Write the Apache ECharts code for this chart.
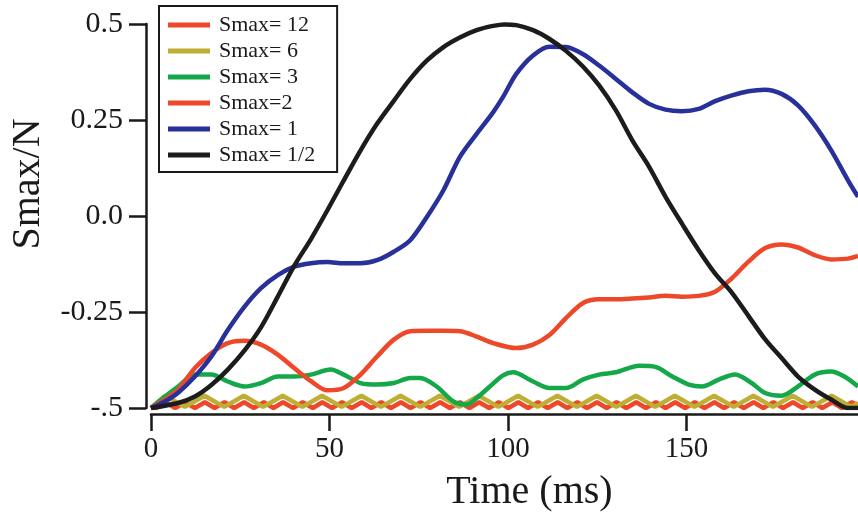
<!DOCTYPE html>
<html><head><meta charset="utf-8">
<script src="https://cdn.jsdelivr.net/npm/echarts@6/dist/echarts.min.js"></script>
<style>html,body{margin:0;padding:0;background:#fff}#c{width:858px;height:517px}</style>
</head><body><div id="c"></div>
<script>
const seriesNames = ['Smax= 12', 'Smax= 6', 'Smax= 3', 'Smax=2', 'Smax= 1', 'Smax= 1/2'];
const xTickValues = [0, 50, 100, 150];
const xTickLabels = ['0', '50', '100', '150'];
const yTickValues = [-0.5, -0.25, 0, 0.25, 0.5];
const yTickLabels = ['-.5', '-0.25', '0.0', '0.25', '0.5'];

// Smax = 12 : small zigzag near the bottom
const smax12 = [[0,-0.5],[1.4,-0.5],[4.1,-0.485],[6.8,-0.5],[9.6,-0.485],[12.3,-0.5],[15.1,-0.485],[17.8,-0.5],[20.6,-0.485],[23.3,-0.5],[26.1,-0.485],[28.8,-0.5],[31.6,-0.485],[34.3,-0.5],[37.0,-0.485],[39.8,-0.5],[42.5,-0.485],[45.3,-0.5],[48.0,-0.485],[50.7,-0.5],[53.5,-0.485],[56.2,-0.5],[59.0,-0.485],[61.7,-0.5],[64.5,-0.485],[67.2,-0.5],[70.0,-0.485],[72.7,-0.5],[75.5,-0.485],[78.2,-0.5],[81.0,-0.485],[83.7,-0.5],[86.5,-0.485],[89.2,-0.5],[91.9,-0.485],[94.7,-0.5],[97.4,-0.485],[100.1,-0.5],[102.9,-0.485],[105.6,-0.5],[108.4,-0.485],[111.1,-0.5],[113.9,-0.485],[116.6,-0.5],[119.4,-0.485],[122.1,-0.5],[124.9,-0.485],[127.6,-0.5],[130.4,-0.485],[133.1,-0.5],[135.9,-0.485],[138.6,-0.5],[141.4,-0.485],[144.1,-0.5],[146.8,-0.485],[149.6,-0.5],[152.3,-0.485],[155.0,-0.5],[157.8,-0.485],[160.5,-0.5],[163.3,-0.485],[166.0,-0.5],[168.8,-0.485],[171.5,-0.5],[174.3,-0.485],[177.0,-0.5],[179.8,-0.485],[182.5,-0.5],[185.3,-0.485],[188.0,-0.5],[190.8,-0.485],[193.5,-0.5],[196.3,-0.485],[198,-0.493]];

// Smax = 6
const smax6 = [[0,-0.5],[4.0,-0.468],[9.5,-0.497],[15.0,-0.468],[20.5,-0.497],[26.0,-0.468],[31.4,-0.497],[36.9,-0.468],[42.4,-0.497],[47.9,-0.468],[53.4,-0.497],[58.9,-0.468],[64.4,-0.497],[69.9,-0.468],[75.4,-0.497],[80.9,-0.468],[86.3,-0.497],[91.8,-0.468],[97.3,-0.497],[102.8,-0.468],[108.3,-0.497],[113.8,-0.468],[119.3,-0.497],[124.8,-0.468],[130.3,-0.497],[135.8,-0.468],[141.2,-0.497],[146.7,-0.468],[152.2,-0.497],[157.7,-0.468],[163.2,-0.497],[168.7,-0.468],[174.2,-0.497],[179.7,-0.468],[185.1,-0.497],[190.6,-0.468],[196.1,-0.497],[198,-0.487]];

// Smax = 3
const smax3 = [[0,-0.5],[3.9,-0.47],[7.6,-0.444],[12.3,-0.413],[16.9,-0.413],[21.5,-0.431],[26.2,-0.444],[30.8,-0.435],[35.5,-0.418],[40.1,-0.418],[44.8,-0.413],[50.3,-0.40],[54,-0.413],[58.7,-0.435],[63.3,-0.439],[68,-0.435],[72.6,-0.422],[75.4,-0.422],[80,-0.444],[84.7,-0.483],[88.4,-0.491],[91.2,-0.474],[94.9,-0.444],[98.6,-0.415],[101.4,-0.407],[107,-0.431],[111.6,-0.448],[116.2,-0.448],[120.9,-0.426],[125.5,-0.413],[130.2,-0.407],[136.7,-0.39],[141.3,-0.393],[146,-0.418],[150.6,-0.439],[154.3,-0.444],[159,-0.426],[163.6,-0.413],[168.2,-0.435],[172,-0.461],[176.6,-0.468],[181.2,-0.444],[185.9,-0.413],[190.5,-0.405],[194.2,-0.418],[198,-0.444]];

// Smax = 2
const smax2 = [[0,-0.5],[3.5,-0.48],[7.6,-0.452],[12.3,-0.396],[16.9,-0.357],[21.5,-0.331],[26.2,-0.325],[30.8,-0.335],[35.5,-0.361],[40.1,-0.396],[44.8,-0.43],[49.4,-0.454],[54,-0.448],[58.7,-0.413],[63.3,-0.366],[68,-0.322],[72.6,-0.30],[77.3,-0.299],[81.9,-0.299],[86.5,-0.30],[91.2,-0.314],[95.8,-0.331],[102.3,-0.344],[107,-0.335],[111.6,-0.31],[116.2,-0.266],[120.9,-0.227],[125.5,-0.217],[130.2,-0.217],[134.8,-0.215],[139.5,-0.212],[144.1,-0.208],[148.7,-0.21],[153.4,-0.208],[158,-0.197],[162.7,-0.162],[167.3,-0.119],[171.9,-0.084],[176.6,-0.074],[181.2,-0.082],[185.9,-0.102],[190.5,-0.113],[195.2,-0.111],[198,-0.104]];

// Smax = 1
const smax1 = [[0,-0.5],[3.5,-0.485],[7.6,-0.46],[12.3,-0.418],[16.9,-0.366],[21.5,-0.297],[26.2,-0.236],[30.8,-0.188],[35.5,-0.154],[40.1,-0.132],[44.8,-0.123],[49.4,-0.12],[54,-0.123],[58.7,-0.123],[63.3,-0.115],[68,-0.093],[72.6,-0.063],[77.3,-0.002],[81.9,0.067],[86.5,0.154],[91.2,0.214],[95.8,0.27],[98.6,0.31],[102.3,0.37],[107,0.418],[111.6,0.441],[116.2,0.44],[120.9,0.422],[125.5,0.392],[130.2,0.357],[134.8,0.322],[139.5,0.292],[144.1,0.277],[148.7,0.273],[153.4,0.279],[158,0.299],[162.7,0.314],[167.3,0.325],[171.9,0.329],[176.6,0.318],[181.2,0.288],[185.9,0.236],[190.5,0.171],[195.2,0.093],[198,0.05]];

// Smax = 1/2
const smaxHalf = [[0,-0.5],[7.6,-0.487],[12.3,-0.47],[16.9,-0.44],[21.5,-0.40],[26.2,-0.35],[30.8,-0.29],[35.5,-0.21],[40.1,-0.13],[44.8,-0.06],[49.4,0.015],[54,0.093],[58.7,0.171],[63.3,0.24],[68,0.30],[72.6,0.357],[77.3,0.405],[81.9,0.44],[86.5,0.465],[91.2,0.484],[95.8,0.495],[99,0.499],[102.3,0.497],[107,0.484],[111.6,0.461],[116.2,0.43],[120.9,0.39],[125.5,0.34],[130.2,0.275],[134.8,0.197],[139.5,0.128],[144.1,0.05],[148.7,-0.02],[153.4,-0.089],[158,-0.15],[162.7,-0.20],[167.3,-0.26],[171.9,-0.32],[176.6,-0.37],[181.2,-0.418],[185.9,-0.452],[190.5,-0.478],[195.2,-0.5],[198,-0.5]];

const seriesData = [smax12, smax6, smax3, smax2, smax1, smaxHalf];
const colors = ['#ee482a', '#bfae34', '#14a84a', '#ee482a', '#28309a', '#1c1c1c'];
const smoothFlags = [false, false, 0.3, 0.3, 0.3, 0.3];

const FONT = 'Liberation Serif';
const INK = '#1a1a1a';

const chart = echarts.init(document.getElementById('c'), null, {renderer: 'canvas'});
chart.setOption({
  animation: false,
  backgroundColor: '#ffffff',
  grid: {left: 146, right: 0, top: 24, bottom: 108, containLabel: false},
  legend: {
    orient: 'vertical',
    left: 159, top: 6,
    padding: [8, 22, 6, 9],
    borderColor: INK, borderWidth: 2,
    backgroundColor: '#ffffff',
    icon: 'rect',
    itemWidth: 42, itemHeight: 5, itemGap: 4,
    selectedMode: false,
    data: seriesNames,
    textStyle: {fontFamily: FONT, fontSize: 22, color: INK, lineHeight: 22, padding: [0, 0, 0, 4]}
  },
  xAxis: {
    type: 'value', min: 0, max: 198, offset: 6,
    name: 'Time (ms)', nameLocation: 'middle', nameGap: 58,
    nameTextStyle: {fontFamily: FONT, fontSize: 40, color: INK, padding: [0, 0, 0, 50]},
    axisLine: {show: true, onZero: false, lineStyle: {color: INK, width: 2.5}},
    axisTick: {show: true, length: 17, customValues: xTickValues, lineStyle: {color: INK, width: 2.5}},
    axisLabel: {customValues: xTickValues, fontFamily: FONT, fontSize: 29, color: INK, margin: 21,
      formatter: v => { const i = xTickValues.indexOf(v); return i >= 0 ? xTickLabels[i] : ''; }},
    splitLine: {show: false}
  },
  yAxis: {
    type: 'value', min: -0.5, max: 0.5, interval: 0.25, offset: 5,
    name: 'Smax/N', nameLocation: 'middle', nameGap: 98, nameRotate: 90,
    nameTextStyle: {fontFamily: FONT, fontSize: 40, color: INK, padding: [0, 0, 0, 64]},
    axisLine: {show: true, onZero: false, lineStyle: {color: INK, width: 2.5}},
    axisTick: {show: true, length: 17, lineStyle: {color: INK, width: 2.5}},
    axisLabel: {fontFamily: FONT, fontSize: 30, color: INK, margin: 23,
      formatter: v => { const i = yTickValues.findIndex(t => Math.abs(t - v) < 1e-9); return i >= 0 ? yTickLabels[i] : ''; }},
    splitLine: {show: false}
  },
  series: seriesNames.map((n, i) => ({
    name: n, type: 'line', data: seriesData[i], showSymbol: false, symbol: 'none',
    smooth: smoothFlags[i], clip: true,
    lineStyle: {color: colors[i], width: 4.5},
    itemStyle: {color: colors[i]}
  }))
});
</script>
</body></html>
